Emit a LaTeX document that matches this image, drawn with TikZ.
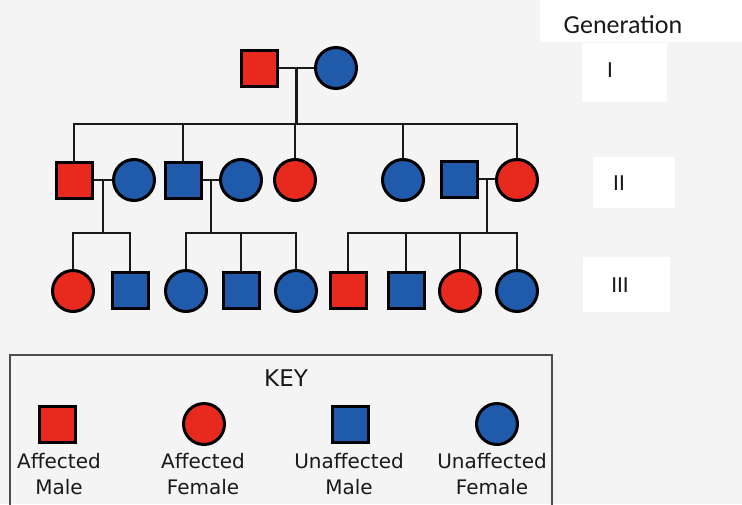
\documentclass[tikz,border=0pt]{standalone}
\usepackage{fontspec}
\setmainfont{DejaVu Sans}
\newfontfamily\genfont{Carlito}
\usetikzlibrary{calc}
\definecolor{affred}{RGB}{232,41,30}
\definecolor{unblue}{RGB}{31,91,170}
\definecolor{bgcol}{RGB}{244,244,244}
\definecolor{inkcol}{RGB}{25,25,25}
\tikzset{
  male/.style={draw=black, line width=3pt, rectangle, minimum size=36pt, inner sep=0pt},
  female/.style={draw=black, line width=3pt, circle, minimum size=41pt, inner sep=0pt},
  aff/.style={fill=affred},
  unaff/.style={fill=unblue},
  link/.style={draw=inkcol, line width=2.5pt},
  keylabel/.style={align=center, inner sep=0pt, text=inkcol, font=\fontsize{20}{26}\selectfont},
  keytitle/.style={inner sep=0pt, text=inkcol, font=\fontsize{23}{26}\selectfont},
  genlabel/.style={inner sep=0pt, text=inkcol, font=\genfont\fontsize{23}{26}\selectfont},
  gentitle/.style={inner sep=0pt, text=inkcol, font=\genfont\fontsize{26}{30}\selectfont},
  patch/.style={fill=white, draw=none},
  keybox/.style={draw=black!70, line width=2pt}
}
\begin{document}
\begin{tikzpicture}[x=1pt,y=1pt]
\useasboundingbox (0,0) rectangle (742,-504);
\clip (0,0) rectangle (742,-504);
\fill[bgcol] (0,0) rectangle (742,-504);
% white patches behind generation labels
\fill[patch] (540,0) rectangle (742,-42);
\fill[patch] (582,-43) rectangle (667,-102);
\fill[patch] (593,-157) rectangle (675,-208);
\fill[patch] (583,-257) rectangle (670,-312);
\node[gentitle] (gtitle) at (623,-25) {Generation};
\node[genlabel] (gI) at (610,-70) {I};
\node[genlabel] (gII) at (619,-183) {II};
\node[genlabel] (gIII) at (620,-285) {III};

% Generation I
\node[male,aff] (I1) at (259,-68) {};
\node[female,unaff] (I2) at (336,-68) {};

% Generation II
\node[male,aff] (II1) at (74,-180) {};
\node[female,unaff] (II2) at (134,-180) {};
\node[male,unaff] (II3) at (183,-180) {};
\node[female,unaff] (II4) at (241,-180) {};
\node[female,aff] (II5) at (295,-180) {};
\node[female,unaff] (II6) at (403,-180) {};
\node[male,unaff] (II7) at (459,-179) {};
\node[female,aff] (II8) at (517,-180) {};

% Generation III
\node[female,aff] (III1) at (73,-291) {};
\node[male,unaff] (III2) at (130,-290) {};
\node[female,unaff] (III3) at (186,-291) {};
\node[male,unaff] (III4) at (241,-290) {};
\node[female,unaff] (III5) at (296,-291) {};
\node[male,aff] (III6) at (348,-290) {};
\node[male,unaff] (III7) at (406,-290) {};
\node[female,aff] (III8) at (460,-291) {};
\node[female,unaff] (III9) at (517,-291) {};

% Gen I mating and sibship
\draw[link] (I1.east) -- (I2.west);
\coordinate (m0) at ($(I1.east)!0.5!(I2.west)$);
\coordinate (s0) at ([yshift=-56pt]m0);
\draw[link] (m0) -- (s0);
\draw[link] (II1.north) |- (s0) -| (II8.north);
\draw[link] (II3.north) -- (II3.north |- s0);
\draw[link] (II5.north) -- (II5.north |- s0);
\draw[link] (II6.north) -- (II6.north |- s0);

% Gen II matings
\draw[link] (II1.east) -- (II2.west);
\draw[link] (II3.east) -- (II4.west);
\draw[link] (II7.east) -- (II8.west |- II7.east);
\coordinate (m1) at ($(II1.east)!0.5!(II2.west)$);
\coordinate (m2) at ($(II3.east)!0.5!(II4.west)$);
\coordinate (m3) at ($(II7.east)!0.5!(II8.west |- II7.east)$);
\coordinate (s1) at ([yshift=-53pt]m1);
\coordinate (s2) at ([yshift=-53pt]m2);
\coordinate (s3) at ([yshift=-54pt]m3);
\draw[link] (m1) -- (s1);
\draw[link] (m2) -- (s2);
\draw[link] (m3) -- (s3);
\draw[link] (III1.north) |- (s1) -| (III2.north);
\draw[link] (III3.north) |- (s2) -| (III5.north);
\draw[link] (III4.north) -- (III4.north |- s2);
\draw[link] (III6.north) |- (s3) -| (III9.north);
\draw[link] (III7.north) -- (III7.north |- s3);
\draw[link] (III8.north) -- (III8.north |- s3);

% Key
\draw[keybox] (10,-355) rectangle (552,-520);
\node[keytitle] (keyt) at (286,-378) {KEY};
\node[male,aff] (k1) at (57,-424) {};
\node[female,aff] (k2) at (204,-424) {};
\node[male,unaff] (k3) at (350,-424) {};
\node[female,unaff] (k4) at (497,-424) {};
\node[keylabel] (kl1) at (59,-474) {Affected\\Male};
\node[keylabel] (kl2) at (203,-474) {Affected\\Female};
\node[keylabel] (kl3) at (349,-474) {Unaffected\\Male};
\node[keylabel] (kl4) at (492,-474) {Unaffected\\Female};
\end{tikzpicture}
\end{document}
